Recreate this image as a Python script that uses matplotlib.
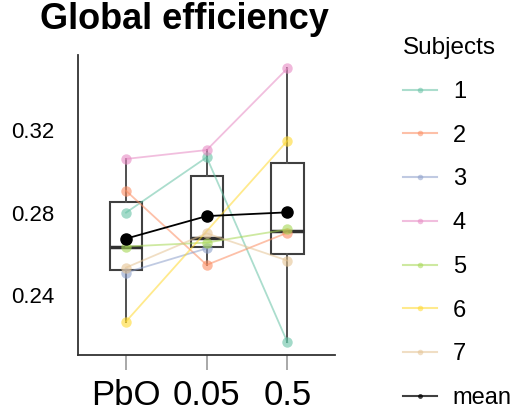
import numpy as np
import matplotlib

matplotlib.use("Agg")
import matplotlib.pyplot as plt
from matplotlib.lines import Line2D

plt.rcParams["font.family"] = ["Liberation Sans", "DejaVu Sans"]

conditions = ["PbO", "0.05", "0.5"]
subjects = ["1", "2", "3", "4", "5", "6", "7"]
# global efficiency per subject at PbO / 0.05 / 0.5 (nan = missing session)
subj_1 = [0.2800, 0.3068, 0.2173]
subj_2 = [0.2906, 0.2547, 0.2703]
subj_3 = [0.2510, 0.2627, np.nan]
subj_4 = [0.3060, 0.3103, 0.3498]
subj_5 = [0.2636, 0.2655, 0.2719]
subj_6 = [0.2273, np.nan, 0.3148]
subj_7 = [0.2534, 0.2700, 0.2568]
subject_colors = ["#66C2A5", "#FC8D62", "#8DA0CB", "#E78AC3", "#A6D854", "#FFD92F", "#E5C494"]

values = np.array([subj_1, subj_2, subj_3, subj_4, subj_5, subj_6, subj_7])
xpos = np.arange(1, len(conditions) + 1)

fig = plt.figure(figsize=(5.19, 4.15), dpi=100)
ax = fig.add_axes([78 / 519, 60 / 415, 257 / 519, 300 / 415])

groups = [col[~np.isnan(col)] for col in values.T]
ax.boxplot(
    groups,
    positions=xpos,
    widths=0.4,
    showcaps=False,
    showfliers=False,
    patch_artist=True,
    boxprops=dict(facecolor="none", edgecolor="#404040", linewidth=1.5),
    whiskerprops=dict(color="#505050", linewidth=1.4),
    medianprops=dict(color="#303030", linewidth=2.5),
    zorder=1,
)

for row, color in zip(values, subject_colors):
    ok = ~np.isnan(row)
    ax.plot(xpos[ok], row[ok], color=color, alpha=0.55, linewidth=1.3, zorder=2)
    ax.plot(xpos[ok], row[ok], "o", color=color, alpha=0.6, markersize=7.5,
            markeredgewidth=0, zorder=3)

means = [g.mean() for g in groups]
ax.plot(xpos, means, color="black", linewidth=1.3, zorder=4)
ax.plot(xpos, means, "o", color="black", markersize=8, zorder=5)

ax.set_xlim(0.405, 3.59)
ax.set_ylim(0.2111, 0.3563)
ax.set_xticks(xpos)
ax.set_xticklabels(conditions, fontsize=25)
ax.set_yticks([0.24, 0.28, 0.32])
ax.set_yticklabels(["0.24", "0.28", "0.32"], fontsize=16)
ax.tick_params(axis="y", length=0, pad=17)
ax.tick_params(axis="x", length=11, width=1.2, color="#999999", pad=6)
for side in ["top", "right"]:
    ax.spines[side].set_visible(False)
for side in ["left", "bottom"]:
    ax.spines[side].set_color("#333333")
    ax.spines[side].set_linewidth(1.3)

fig.text(184 / 519, 1 - 29 / 415, "Global efficiency", fontsize=26,
         fontweight="bold", ha="center", va="baseline")

handles = [
    Line2D([], [], color=c, alpha=0.55, linewidth=1.5, marker="o",
           markersize=4, markeredgewidth=0)
    for c in subject_colors
]
handles.append(Line2D([], [], color="black", alpha=0.75, linewidth=1.5,
                      marker="o", markersize=3.5, markeredgewidth=0))
leg = fig.legend(
    handles,
    subjects + ["mean"],
    title="Subjects",
    loc="upper left",
    bbox_to_anchor=(382 / 519, 1 - 16 / 415),
    frameon=False,
    fontsize=17,
    title_fontsize=17.5,
    handlelength=1.45,
    handletextpad=0.65,
    labelspacing=0.92,
)
leg._legend_box.align = "left"

fig.savefig("out.png", dpi=100)
